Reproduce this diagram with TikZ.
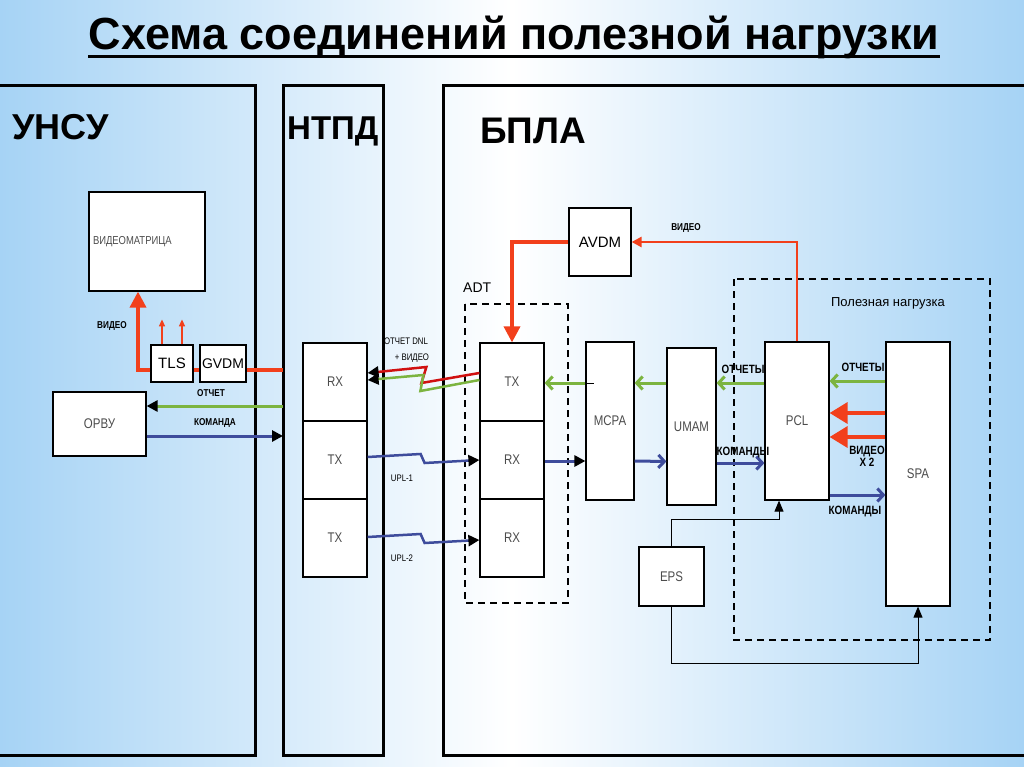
\documentclass[tikz,border=0pt]{standalone}
\usepackage{fontspec}
\setmainfont{Liberation Sans}
\newfontfamily\nrw[FakeStretch=0.82]{Liberation Sans}
\usetikzlibrary{arrows.meta}
\definecolor{bgblue}{HTML}{A6D3F5}
\definecolor{vidred}{HTML}{F2401C}
\definecolor{repgreen}{HTML}{7CB440}
\definecolor{cmdblue}{HTML}{3E4C9C}
\definecolor{dnlred}{HTML}{D01010}
\newcommand\fsz[1]{\fontsize{#1}{#1}\selectfont}

\begin{document}
\begin{tikzpicture}[x=1pt, y=-1pt,
    box/.style={draw, fill=white, line width=1.2pt, inner sep=0pt, font=\nrw\fsz{14}, text=black!70},
    sz/.style 2 args={minimum width=#1pt, minimum height=#2pt},
    lbl/.style={font=\nrw\bfseries\fsz{10}, inner sep=0pt},
    blbl/.style={font=\nrw\bfseries\fsz{12}, inner sep=0pt},
    panel/.style={line width=3pt},
    grp/.style={line width=1.3pt, dash pattern=on 7pt off 5pt},
    vid/.style={vidred, line width=3.5pt, -{Triangle[length=16pt,width=16pt]}},
    vidbig/.style={vidred, line width=3.5pt, -{Triangle[length=18pt,width=21pt]}},
    vidthin/.style={vidred, line width=2.5pt, -{Triangle[length=10pt,width=10pt]}},
    repline/.style={repgreen, line width=3pt},
    cmdline/.style={cmdblue, line width=3pt},
    rep/.style={repline, -{Straight Barb[length=6pt,width=13pt]}},
    cmd/.style={cmdline, -{Straight Barb[length=6pt,width=13pt]}},
    tipblk/.style={-{Triangle[length=11pt,width=11pt,color=black]}},
    pwr/.style={black, line width=0.9pt, -{Triangle[length=11pt,width=9pt]}},
]
\useasboundingbox (0,0) rectangle (1024,767);
\clip (0,0) rectangle (1024,767);
\shade[left color=bgblue, right color=bgblue, middle color=white] (0,0) rectangle (1024,767);

% Title
\node[font=\bfseries\fsz{45}, inner sep=0pt, anchor=base] (title) at (514,50) {Схема соединений полезной нагрузки};
\draw[line width=3pt] ([yshift=-7pt]title.base west) -- ([yshift=-7pt]title.base east);

% Panels
\draw[panel] (-5,86) -| (255,755) -- (-5,755);
\draw[panel] (283,86) rectangle (383,755);
\draw[panel] (1030,86) -| (443,755) -- (1030,755);
\node[font=\bfseries\fsz{36}, anchor=base west, inner sep=0pt] (unsu) at (12,140) {УНСУ};
\node[font=\bfseries\fsz{33}, anchor=base west, inner sep=0pt] (ntpd) at (287,140) {НТПД};
\node[font=\bfseries\fsz{37}, anchor=base west, inner sep=0pt] (bpla) at (480,144) {БПЛА};

% Groups
\draw[grp] (465,304) rectangle (568,603);
\draw[grp] (734,279) rectangle (990,640);
\node[font=\fsz{14}, anchor=base west, inner sep=0pt] (adtlbl) at (463,292) {ADT};
\node[font=\fsz{13}, inner sep=0pt] (plbl) at (888,303) {Полезная нагрузка};

% UNSU side
\node[box, sz={116}{99}, text width=108pt, align=left, font=\nrw\fsz{11.5}] (vm) at (147,241.5) {ВИДЕОМАТРИЦА};
\node[box, sz={42}{37}, font=\fsz{15}, text=black] (tls) at (172,363.5) {TLS};
\node[box, sz={46}{37}, font=\fsz{14}, text=black] (gvdm) at (223,363.5) {GVDM};
\node[box, sz={93}{64}] (orvu) at (99.5,424) {ОРВУ};

% NTPD side
\node[box, sz={64}{78}] (nrx) at (335,382) {RX};
\node[box, sz={64}{78}] (ntx1) at (335,460) {TX};
\node[box, sz={64}{78}] (ntx2) at (335,538) {TX};

% BPLA side
\node[box, sz={64}{78}] (atx) at (512,382) {TX};
\node[box, sz={64}{78}] (arx1) at (512,460) {RX};
\node[box, sz={64}{78}] (arx2) at (512,538) {RX};
\node[box, sz={62}{68}, font=\fsz{15}, text=black] (avdm) at (600,242) {AVDM};
\node[box, sz={48}{158}] (mcpa) at (610,421) {MCPA};
\node[box, sz={49}{157}] (umam) at (691.5,426.5) {UMAM};
\node[box, sz={64}{158}] (pcl) at (797,421) {PCL};
\node[box, sz={64}{264}] (spa) at (918,474) {SPA};
\node[box, sz={65}{59}] (eps) at (671.5,576.5) {EPS};

% Ground connections
\draw[vid] ([yshift=-6.5pt]tls.west) -| ([xshift=-9pt]vm.south);
\foreach \dx in {-10,10}
  \draw[vidred, line width=1.5pt, -{Triangle[length=7pt,width=6pt]}] ([xshift=\dx pt]tls.north) -- ++(0,-25);
\draw[vidred, line width=3.5pt] ([yshift=-6.5pt]tls.east) -- ([yshift=-6.5pt]gvdm.west);
\coordinate (ngv) at (283,370);
\coordinate (nrep) at (283,406);
\coordinate (ncmd) at (283,436);
\draw[vidred, line width=3.5pt] ([yshift=-6.5pt]gvdm.east) -- (ngv);
\draw[repline, tipblk] (nrep) -- ([yshift=18pt]orvu.east);
\draw[cmdline, tipblk] ([yshift=-12pt]orvu.east) -- (ncmd);
\node[lbl] (lvid) at (112,326) {ВИДЕО};
\node[lbl] (lrep) at (211,393) {ОТЧЕТ};
\node[lbl] (lcmd) at (215,423) {КОМАНДА};

% Radio links
\draw[dnlred, line width=2.5pt, tipblk] ([yshift=9pt]atx.west) -- ++(-58,10) -- ++(5,-16) -- ([yshift=9pt]nrx.east);
\draw[repline, line width=2.5pt, tipblk] ([yshift=2pt]atx.west) -- ++(-59,11) -- ++(3,-16) -- ([yshift=2pt]nrx.east);
\draw[cmdline, line width=2.5pt, tipblk] ([yshift=3pt]ntx1.east) -- ++(53,-3) -- ++(4,9) -- (arx1.west);
\draw[cmdline, line width=2.5pt, tipblk] ([yshift=1pt]ntx2.east) -- ++(53,-3) -- ++(4,9) -- ([yshift=-2pt]arx2.west);
\node[lbl, font=\nrw\fsz{9.5}] (ldnl) at (406,341) {ОТЧЕТ DNL};
\node[lbl, font=\nrw\fsz{9.5}] (ldnlv) at (412,358) {+ ВИДЕО};
\node[lbl, font=\nrw\fsz{9.5}] (lupla) at (402,478) {UPL-1};
\node[lbl, font=\nrw\fsz{9.5}] (luplb) at (402,558) {UPL-2};

% Onboard video
\draw[vid] (avdm.west) -| (atx.north);
\draw[vidthin] (pcl.north) |- (avdm.east);
\node[lbl] (lavid) at (686,228) {ВИДЕО};

% Reports
\draw[rep] ([yshift=93pt]spa.west) -- ([yshift=40pt]pcl.east);
\draw[rep] ([yshift=38pt]pcl.west) -- ([yshift=43.5pt]umam.east);
\draw[rep] ([yshift=43.5pt]umam.west) -- ([yshift=38pt]mcpa.east);
\draw[rep] ([yshift=38pt]mcpa.west) -- ([yshift=-1pt]atx.east);
\draw[line width=1pt] ([yshift=38pt]mcpa.west) -- ++(9,0);

% Commands
\draw[cmdline, tipblk] ([yshift=-1pt]arx1.east) -- ([yshift=-40pt]mcpa.west);
\draw[cmd] ([yshift=-40pt]mcpa.east) -- ([yshift=-35pt]umam.west);
\draw[cmd] ([yshift=-36.5pt]umam.east) -- ([yshift=-42pt]pcl.west);
\draw[cmd] ([yshift=-74pt]pcl.east) -- ([yshift=-21pt]spa.west);

% Payload video
\draw[vidbig] ([yshift=61pt]spa.west) -- ([yshift=8pt]pcl.east);
\draw[vidbig] ([yshift=37pt]spa.west) -- ([yshift=-16pt]pcl.east);

\node[blbl] (lrepa) at (743,369) {ОТЧЕТЫ};
\node[blbl] (lcmda) at (743,453) {КОМАНДЫ};
\node[blbl] (lrepb) at (863,367) {ОТЧЕТЫ};
\node[blbl, align=center] (lvidb) at (867,456) {ВИДЕО\\X 2};
\node[blbl] (lcmdb) at (855,512) {КОМАНДЫ};

% Power
\draw[pwr] (eps.north) -- ++(0,-27) -| ([xshift=-18pt]pcl.south);
\draw[pwr] (eps.south) -- ++(0,57) -| (spa.south);
\end{tikzpicture}
\end{document}
